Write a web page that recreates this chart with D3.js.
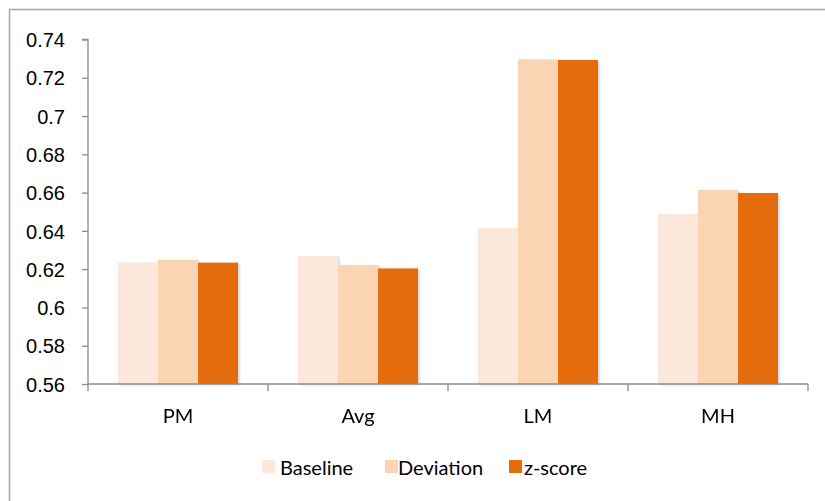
<!DOCTYPE html>
<html>
<head>
<meta charset="utf-8">
<script src="https://cdn.jsdelivr.net/npm/d3@7"></script>
<style>
  html, body { margin: 0; padding: 0; background: #fff; }
  svg { display: block; font-family: Lato, "Open Sans", sans-serif; }
</style>
</head>
<body>
<svg id="chart" width="825" height="501"></svg>
<script>
// Methods compared on the x axis
const categories = ["PM", "Avg", "LM", "MH"];
// Scoring variants, one bar each per method
const seriesNames = ["Baseline", "Deviation", "z-score"];
const baselineValues  = [0.6234, 0.6269, 0.6415, 0.6488];
const deviationValues = [0.6249, 0.6222, 0.7296, 0.6614];
const zscoreValues    = [0.6234, 0.6204, 0.7293, 0.6598];
const yTickValues = [0.56, 0.58, 0.6, 0.62, 0.64, 0.66, 0.68, 0.7, 0.72, 0.74];
const seriesColors = ["#FCE8DA", "#FBD4B4", "#E46C0A"];

const seriesValues = [baselineValues, deviationValues, zscoreValues];

const svg = d3.select("#chart");
const W = 825, H = 501;
const plot = { left: 88, right: 808, top: 39.5, bottom: 384 };

// Chart area frame
svg.append("rect")
  .attr("x", 9.5).attr("y", 9.5)
  .attr("width", W + 20).attr("height", H + 20)
  .attr("fill", "none").attr("stroke", "#a6a6a6").attr("stroke-width", 1.5);

const x0 = d3.scaleBand().domain(categories).range([plot.left, plot.right]).paddingInner(0).paddingOuter(0);
const x1 = d3.scaleBand().domain(seriesNames).range([0, 120]).padding(0);
const y = d3.scaleLinear().domain([0.56, 0.74]).range([plot.bottom, plot.top]);
const color = d3.scaleOrdinal().domain(seriesNames).range(seriesColors);

// Soft drop shadow under bars
const defs = svg.append("defs");
const f = defs.append("filter").attr("id", "shadow").attr("x", "-20%").attr("y", "-20%").attr("width", "150%").attr("height", "150%");
f.append("feDropShadow").attr("dx", 1.5).attr("dy", 1).attr("stdDeviation", 1.2)
  .attr("flood-color", "#000").attr("flood-opacity", 0.18);

const rows = categories.map((c, i) => ({
  cat: c,
  vals: seriesNames.map((s, j) => ({ series: s, value: seriesValues[j][i] }))
}));

const groups = svg.append("g").attr("filter", "url(#shadow)")
  .selectAll("g").data(rows).join("g")
  .attr("transform", d => `translate(${x0(d.cat) + (x0.bandwidth() - 120) / 2},0)`);

groups.selectAll("rect").data(d => d.vals).join("rect")
  .attr("x", d => x1(d.series))
  .attr("width", x1.bandwidth())
  .attr("y", d => y(d.value))
  .attr("height", d => y(0.56) - y(d.value))
  .attr("fill", d => color(d.series));

// Y axis
const yAxis = svg.append("g").attr("transform", `translate(${plot.left},0)`)
  .call(d3.axisLeft(y).tickValues(yTickValues).tickFormat(d => d3.format("")(+d.toFixed(2))).tickSize(6).tickPadding(17));
yAxis.select(".domain").attr("stroke", "#8c8c8c").attr("stroke-width", 1.3).attr("d", `M-6,${plot.top}H0V${plot.bottom}`);
yAxis.selectAll(".tick line").attr("stroke", "#8c8c8c").attr("stroke-width", 1.3);
yAxis.selectAll(".tick text").attr("font-size", 20).attr("fill", "#000").attr("dy", "0.36em");

// X axis with boundary ticks between categories
const xAxis = svg.append("g").attr("transform", `translate(0,${plot.bottom})`);
xAxis.append("line").attr("x1", plot.left).attr("x2", plot.right)
  .attr("stroke", "#8c8c8c").attr("stroke-width", 1.3);
const boundaries = categories.map(c => x0(c)).concat([plot.right]);
xAxis.selectAll("line.sep").data(boundaries).join("line").attr("class", "sep")
  .attr("x1", d => d).attr("x2", d => d).attr("y1", 0).attr("y2", 7)
  .attr("stroke", "#8c8c8c").attr("stroke-width", 1.3);
xAxis.selectAll("text").data(categories).join("text")
  .attr("x", d => x0(d) + x0.bandwidth() / 2)
  .attr("y", 39)
  .attr("text-anchor", "middle")
  .attr("font-size", 20)
  .attr("fill", "#000")
  .text(d => d);

// Legend
const legendSwatchX = [262, 385, 509];
const legendTextX = [280, 398, 524];
const legend = svg.append("g");
const items = legend.selectAll("g").data(seriesNames).join("g");
items.append("rect")
  .attr("x", (d, i) => legendSwatchX[i]).attr("y", 460)
  .attr("width", 13).attr("height", 13).attr("fill", d => color(d));
items.append("text")
  .attr("x", (d, i) => legendTextX[i]).attr("y", 475)
  .attr("font-size", 20).attr("fill", "#000").text(d => d);
</script>
</body>
</html>
